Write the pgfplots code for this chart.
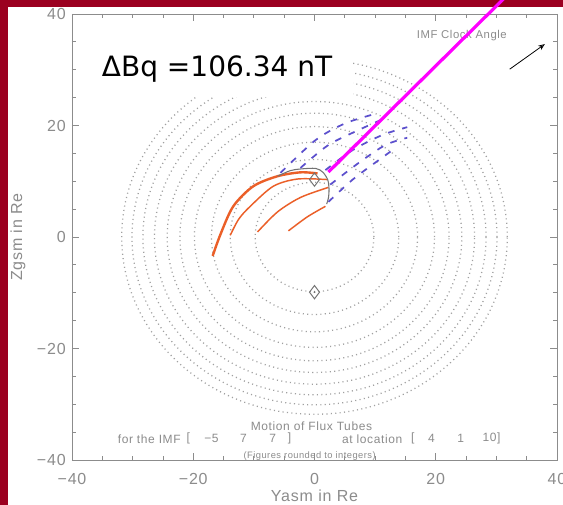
\documentclass[border=0pt]{standalone}
\usepackage{fontspec}
\setmainfont{Liberation Sans}
\newfontfamily\idl[LetterSpace=5]{Liberation Sans}
\newfontfamily\slidefont{DejaVu Sans}
\usepackage{pgfplots}
\pgfplotsset{compat=1.18}
\usetikzlibrary{arrows.meta}
\definecolor{slidered}{RGB}{155,0,32}
\definecolor{idlgray}{RGB}{140,140,140}
\definecolor{ringgray}{RGB}{160,160,160}
\definecolor{tubeorange}{RGB}{235,95,40}
\definecolor{tubeblue}{RGB}{92,80,205}
\definecolor{arcgray}{RGB}{115,115,115}
\definecolor{vecmagenta}{RGB}{255,0,255}

\begin{document}
\begin{tikzpicture}
% slide frame
\path[use as bounding box] (-54pt,-33.75pt) rectangle (368.25pt,345pt);
\clip (-54pt,-33.75pt) rectangle (368.25pt,345pt);
\fill[slidered] (-54pt,-33.75pt) rectangle (368.25pt,345pt);
\fill[white] (-48pt,-33.75pt) rectangle (368.25pt,339.75pt);
\begin{axis}[
  at={(0,0)}, anchor=south west,
  scale only axis, width=363.75pt, height=334.5pt,
  xmin=-40, xmax=40, ymin=-40, ymax=40,
  xtick={-40,-20,0,20,40}, ytick={-40,-20,0,20,40},
  xticklabels={−40,−20,0,20,40}, yticklabels={−40,−20,0,20,40},
  minor tick num=3,
  tick pos=both, tick align=inside,
  major tick length=5pt, minor tick length=3pt,
  axis line style={idlgray, line width=0.6pt},
  every tick/.style={idlgray, line width=0.6pt},
  tick label style={font=\idl\fontsize{12}{12}\selectfont, text=idlgray, inner sep=0pt},
  xticklabel style={anchor=center, yshift=-14.25pt},
  yticklabel style={anchor=east, xshift=-4.5pt},
  xlabel={Yasm in Re}, ylabel={Zgsm in Re},
  every axis x label/.style={at={(axis description cs:0.5,-0.0807)}, anchor=center,
    font=\idl\fontsize{12}{12}\selectfont, text=idlgray},
  every axis y label/.style={at={(axis description cs:-0.1113,0.5)}, anchor=center, rotate=90,
    font=\idl\fontsize{12}{12}\selectfont, text=idlgray},
  clip=false,
]
% dotted reference rings
\pgfplotsinvokeforeach{9.8, 13.9, 17.0, 19.8, 22.2, 24.3, 26.4, 28.3, 30.1, 31.8}{
  \draw[ringgray, line width=0.95pt, dash pattern=on 0.8pt off 2.5pt]
    (axis cs:0,0) ellipse [x radius=#1, y radius=#1];
}
% field-line traces (orange)
\addplot[tubeorange, line width=1.8pt, smooth] coordinates {
  (-16.8,-3.4) (-15.5,0.5) (-13.4,5.5) (-10.1,9.1) (-6.1,10.9) (-2.3,11.6) (0.5,11.4)};
\addplot[tubeorange, line width=1.1pt, smooth] coordinates {
  (-13.9,0.3) (-12.5,3.2) (-10.6,5.5) (-6.8,9.1) (-2.8,10.4) (2.1,10.3)};
\addplot[tubeorange, line width=1.1pt, smooth] coordinates {
  (-9.4,0.9) (-6.1,4.5) (-2.3,7.1) (2.3,8.9)};
\addplot[tubeorange, line width=1.1pt, smooth] coordinates {
  (-4.3,1.1) (-1.2,3.6) (1.8,5.5)};
% flux tube outline
\addplot[arcgray, line width=0.8pt, smooth] coordinates {
  (-6.1,10.9) (-4,11.9) (-2.3,12.2) (0.2,12.3) (1.4,11.6) (2.2,10.2) (2.4,8.5) (2.3,7.0) (2.0,5.9)};
% displaced tubes (blue dashed)
\addplot[tubeblue, line width=1.3pt, dash pattern=on 5pt off 6pt, smooth] coordinates {
  (-5.6,11.5) (0.2,17.4) (5.1,20.4) (10.4,22.2)};
\addplot[tubeblue, line width=1.3pt, dash pattern=on 5pt off 6pt, smooth] coordinates {
  (-2.3,12.4) (2.3,16.5) (7.3,19.2) (12,21.5)};
\addplot[tubeblue, line width=1.3pt, dash pattern=on 5pt off 6pt, smooth] coordinates {
  (1.8,12) (6.3,15.6) (11.2,18.3) (15.3,19.7)};
\addplot[tubeblue, line width=1.3pt, dash pattern=on 5pt off 6pt, smooth] coordinates {
  (2.6,9.4) (7.3,13.3) (11.7,16.5) (15.3,17.8)};
\addplot[tubeblue, line width=1.3pt, dash pattern=on 5pt off 6pt, smooth] coordinates {
  (2.3,6.3) (6.3,10.3) (10.6,13.8) (12.9,15.6)};
% reference positions
\addplot[only marks, mark=diamond, mark size=5pt, arcgray, mark options={line width=0.7pt}]
  coordinates {(0,10.3) (0,-9.9)};
\addplot[only marks, mark=*, mark size=0.5pt, arcgray] coordinates {(0,-9.9)};
% title block
\fill[white] (axis cs:-36,25.1) rectangle (axis cs:6.4,35);
\node[anchor=base west, inner sep=0pt, font=\slidefont\fontsize{21}{21}\selectfont]
  at (axis cs:-35.1,28.7) {ΔBq =106.34 nT};
\node[font=\idl\fontsize{8.5}{8.5}\selectfont, text=idlgray] at (axis cs:24.3,36.05) {IMF Clock Angle};
\draw[-{Stealth[open, length=5pt, width=4pt]}, black, line width=0.6pt]
  (axis cs:32.2,30.1) -- (axis cs:38,34.6);
% field jump vector
\addplot[vecmagenta, line width=2.4pt] coordinates {(2.3,11.66) (33,44.66)};
% captions
\node[font=\idl\fontsize{9}{9}\selectfont, text=idlgray] at (axis cs:-0.5,-33.9) {Motion of Flux Tubes};
\begin{scope}[every node/.style={font=\idl\fontsize{9}{9}\selectfont, text=idlgray, inner sep=1pt}]
\node[anchor=west] at (axis cs:-32.7,-36.2) {for the IMF};
\node at (axis cs:-20.8,-36.2) {[};
\node at (axis cs:-17.0,-36.2) {−5};
\node at (axis cs:-11.7,-36.2) {7};
\node at (axis cs:-6.9,-36.2) {7};
\node at (axis cs:-4.1,-36.2) {]};
\node[anchor=west] at (axis cs:4.3,-36.2) {at location};
\node at (axis cs:16.2,-36.2) {[};
\node at (axis cs:19.3,-36.2) {4};
\node at (axis cs:24.1,-36.2) {1};
\node at (axis cs:29.2,-36.2) {10]};
\end{scope}
\node[font=\idl\fontsize{7}{7}\selectfont, text=idlgray] at (axis cs:-0.8,-39.3) {(Figures rounded to integers)};
\end{axis}
\end{tikzpicture}
\end{document}
